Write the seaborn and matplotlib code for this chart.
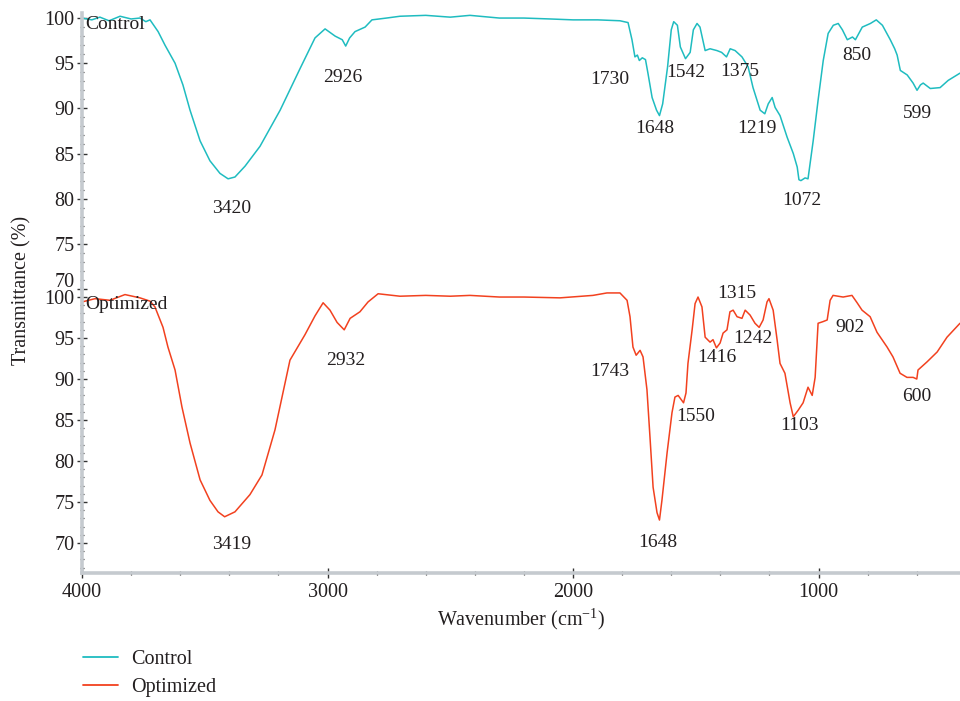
import matplotlib
matplotlib.use("Agg")
import matplotlib.pyplot as plt
from matplotlib.ticker import MultipleLocator
from matplotlib.lines import Line2D
import pandas as pd
import seaborn as sns

# FTIR spectrum of the control sample (wavenumber in cm^-1, transmittance in %)
control_wn = [4000, 3960, 3927, 3890, 3845, 3800, 3764, 3740, 3723, 3690, 3662,
              3621, 3589, 3560, 3519, 3479, 3438, 3405, 3377, 3336, 3275, 3193,
              3112, 3051, 3010, 2969, 2940, 2926, 2910, 2888, 2847, 2819, 2760,
              2705, 2600, 2500, 2420, 2300, 2200, 2094, 2000, 1900, 1809, 1776,
              1760, 1748, 1738, 1730, 1718, 1705, 1695, 1678, 1660, 1648, 1635,
              1615, 1600, 1590, 1575, 1563, 1542, 1523, 1510, 1495, 1483, 1462,
              1442, 1414, 1395, 1375, 1360, 1340, 1312, 1287, 1267, 1238, 1219,
              1205, 1189, 1177, 1157, 1128, 1103, 1087, 1080, 1072, 1055, 1043,
              1022, 1002, 981, 961, 940, 920, 903, 883, 862, 850, 822, 789, 765,
              740, 708, 690, 680, 667, 639, 615, 599, 585, 574, 545, 505, 472,
              424]
control_t = [100.0, 99.8, 100.1, 99.7, 100.2, 99.9, 100.0, 99.6, 99.8, 98.5, 97.0,
             95.0, 92.6, 89.8, 86.4, 84.2, 82.8, 82.2, 82.4, 83.6, 85.8, 89.8,
             94.4, 97.8, 98.8, 98.0, 97.6, 96.9, 97.8, 98.5, 99.0, 99.8, 100.0,
             100.2, 100.3, 100.1, 100.3, 100.0, 100.0, 99.9, 99.8, 99.8, 99.7, 99.5,
             97.6, 95.7, 95.9, 95.3, 95.6, 95.4, 93.9, 91.2, 89.8, 89.2, 90.5,
             94.6, 98.7, 99.6, 99.2, 96.8, 95.5, 96.2, 98.7, 99.4, 99.0, 96.4,
             96.6, 96.4, 96.2, 95.7, 96.6, 96.4, 95.7, 94.6, 92.3, 89.8, 89.4,
             90.5, 91.2, 90.1, 89.2, 86.8, 85.0, 83.5, 82.1, 82.0, 82.3, 82.2,
             86.4, 90.9, 95.3, 98.3, 99.2, 99.4, 98.7, 97.6, 97.9, 97.6, 99.0,
             99.4, 99.8, 99.2, 97.6, 96.6, 95.9, 94.2, 93.7, 92.8, 92.0, 92.6,
             92.8, 92.2, 92.3, 93.1, 93.9]

# FTIR spectrum of the optimized sample
optimized_wn = [4000, 3947, 3886, 3825, 3764, 3723, 3703, 3670, 3650, 3621, 3593,
                3560, 3519, 3479, 3446, 3419, 3377, 3316, 3267, 3214, 3153, 3092,
                3051, 3018, 2990, 2961, 2932, 2908, 2868, 2835, 2794, 2705, 2600,
                2500, 2420, 2300, 2200, 2053, 1919, 1862, 1809, 1780, 1768, 1756,
                1743, 1727, 1715, 1699, 1686, 1674, 1658, 1648, 1638, 1617, 1597,
                1585, 1572, 1550, 1540, 1532, 1515, 1503, 1491, 1475, 1462, 1442,
                1430, 1416, 1401, 1389, 1373, 1361, 1348, 1332, 1312, 1299, 1279,
                1259, 1242, 1226, 1210, 1202, 1185, 1169, 1157, 1137, 1116, 1103,
                1083, 1063, 1043, 1026, 1014, 1002, 982, 965, 953, 941, 900, 864,
                843, 823, 790, 762, 721, 697, 668, 640, 615, 600, 595, 558, 517,
                477, 424]
optimized_t = [99.4, 99.8, 99.6, 100.3, 99.9, 99.5, 98.8, 96.3, 93.9, 91.1, 86.6,
               82.2, 77.7, 75.2, 73.8, 73.2, 73.8, 75.9, 78.3, 83.8, 92.3, 95.4,
               97.7, 99.3, 98.4, 96.9, 96.0, 97.4, 98.2, 99.4, 100.4, 100.1, 100.2,
               100.1, 100.2, 100.0, 100.0, 99.9, 100.2, 100.5, 100.5, 99.6, 97.6, 93.9,
               92.9, 93.5, 92.7, 88.7, 82.6, 76.8, 73.7, 72.8, 75.2, 81.0, 85.9,
               87.8, 88.0, 87.1, 88.3, 91.9, 96.0, 99.2, 100.0, 98.8, 95.1, 94.5,
               94.8, 93.8, 94.4, 95.6, 96.0, 98.2, 98.4, 97.6, 97.4, 98.4, 97.8,
               96.8, 96.3, 97.2, 99.4, 99.8, 98.4, 94.8, 91.9, 90.7, 87.1, 85.4,
               86.2, 87.1, 89.0, 88.0, 90.2, 96.8, 97.0, 97.2, 99.6, 100.2, 100.0, 100.2,
               99.3, 98.4, 97.6, 95.7, 93.9, 92.7, 90.7, 90.2, 90.2, 90.0, 91.1, 92.1, 93.3,
               95.1, 96.8]

# Peak labels: (text, wavenumber position, transmittance position)
control_peaks = [("3420", 3389, 78.9), ("2926", 2937, 93.4), ("1730", 1849, 93.2),
                 ("1648", 1666, 87.8), ("1542", 1540, 94.0), ("1375", 1320, 94.1),
                 ("1219", 1251, 87.8), ("1072", 1067, 79.8), ("850", 843, 95.9),
                 ("599", 599, 89.4)]
optimized_peaks = [("3419", 3389, 69.8), ("2932", 2925, 92.2), ("1743", 1849, 90.9),
                   ("1648", 1654, 70.1), ("1550", 1499, 85.4), ("1416", 1413, 92.6),
                   ("1315", 1332, 100.4), ("1242", 1267, 94.9), ("1103", 1079, 84.3),
                   ("902", 872, 96.3), ("600", 599, 87.9)]

series_names = ["Control", "Optimized"]
series_colors = ["#1fbcc0", "#f2411f"]
y_ticks = [100, 95, 90, 85, 80, 75, 70]
x_ticks = [4000, 3000, 2000, 1000]

sns.set_style("ticks")
plt.rcParams["font.family"] = ["Liberation Serif", "DejaVu Serif"]
plt.rcParams["mathtext.fontset"] = "custom"
plt.rcParams["mathtext.rm"] = "Liberation Serif"
plt.rcParams["mathtext.it"] = "Liberation Serif:italic"

text_color = "#231f20"
spine_color = "#c5cacf"

W, H = 960, 701
fig = plt.figure(figsize=(W / 100, H / 100), dpi=100)

left = 82 / W
right = 1.0
ax_top = fig.add_axes([left, 1 - 289 / H, right - left, (289 - 13) / H])
ax_bot = fig.add_axes([left, 1 - 573 / H, right - left, (573 - 289) / H], sharex=ax_top)

df_c = pd.DataFrame({"wn": control_wn, "t": control_t})
df_o = pd.DataFrame({"wn": optimized_wn, "t": optimized_t})
sns.lineplot(data=df_c, x="wn", y="t", ax=ax_top, color=series_colors[0],
             lw=1.1, estimator=None)
sns.lineplot(data=df_o, x="wn", y="t", ax=ax_bot, color=series_colors[1],
             lw=1.1, estimator=None)

ax_top.set_xlim(4000, 424)
ax_top.set_ylim(70, 100.56)
ax_bot.set_ylim(66.34, 100.98)

for ax in (ax_top, ax_bot):
    for s in ("top", "right"):
        ax.spines[s].set_visible(False)
    ax.spines["left"].set_color(spine_color)
    ax.spines["left"].set_linewidth(2.6)
    ax.set_yticks(y_ticks)
    ax.yaxis.set_minor_locator(MultipleLocator(1))
    ax.tick_params(axis="y", which="major", direction="inout", length=7, width=1,
                   color="#333333", labelsize=14.5, labelcolor=text_color, pad=2)
    ax.tick_params(axis="y", which="minor", direction="inout", length=3.5, width=0.9,
                   color="#333333")
    ax.set_xlabel("")
    ax.set_ylabel("")
    ax.patch.set_alpha(0)

# The lowest tick label of the upper scale sits slightly raised so it clears
# the "100" of the lower scale.
ax_top.set_yticklabels([str(v) for v in y_ticks[:-1]] + [""])
ax_top.annotate(str(y_ticks[-1]), xy=(0, y_ticks[-1]), xycoords=("axes fraction", "data"),
                xytext=(-5.5, 4.5), textcoords="offset points", ha="right", va="center",
                fontsize=14.5, color=text_color)

ax_top.spines["bottom"].set_visible(False)
ax_top.tick_params(axis="x", which="both", bottom=False, labelbottom=False)

ax_bot.spines["bottom"].set_color(spine_color)
ax_bot.spines["bottom"].set_linewidth(2.6)
ax_bot.set_xticks(x_ticks)
ax_bot.xaxis.set_minor_locator(MultipleLocator(200))
ax_bot.tick_params(axis="x", which="major", direction="inout", length=7, width=1,
                   color="#333333", labelsize=14.5, labelcolor=text_color, pad=4)
ax_bot.tick_params(axis="x", which="minor", direction="inout", length=3.5, width=0.9,
                   color="#333333")
ax_bot.set_xlabel("Wavenumber (cm$^{-1}$)", fontsize=14.5, color=text_color, labelpad=3)

fig.text(22 / W, 1 - 290 / H, "Transmittance (%)", rotation=90, ha="center",
         va="center", fontsize=14.5, color=text_color)

for txt, x, y in control_peaks:
    ax_top.text(x, y, txt, ha="center", va="center", fontsize=14, color=text_color)
for txt, x, y in optimized_peaks:
    ax_bot.text(x, y, txt, ha="center", va="center", fontsize=14, color=text_color)

ax_top.text(3988, 99.3, series_names[0], ha="left", va="center", fontsize=14,
            color=text_color)
ax_bot.text(3988, 99.1, series_names[1], ha="left", va="center", fontsize=14,
            color=text_color)

handles = [Line2D([], [], color=c, lw=1.3) for c in series_colors]
fig.legend(handles, series_names, loc="upper left", bbox_to_anchor=(77 / W, 1 - 644 / H),
           frameon=False, fontsize=14.5, handlelength=1.75, handletextpad=0.65,
           labelspacing=0.45, borderaxespad=0, borderpad=0.3,
           labelcolor=text_color)

fig.savefig("out.png", dpi=100)
